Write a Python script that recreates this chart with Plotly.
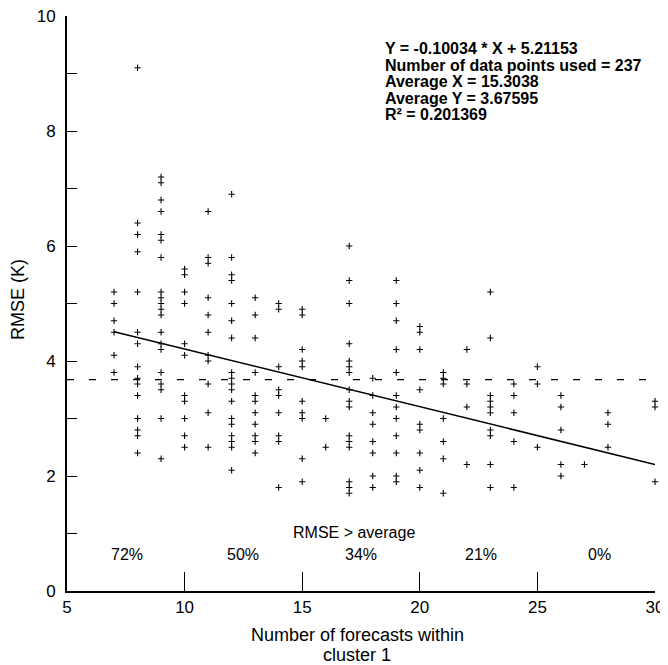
import plotly.graph_objects as go

# ---- data ----
x_cols = [7, 8, 9, 10, 11, 12, 13, 14, 15, 16, 17, 18, 19, 20, 21, 22, 23, 24, 25, 26, 27, 28, 30]
y_cols = [
    [5.2, 5.0, 4.7, 4.5, 4.1, 3.8],
    [9.1, 6.4, 6.2, 5.9, 5.2, 4.5, 4.3, 3.9, 3.7, 3.6, 3.4, 3.0, 2.8, 2.7, 2.4],
    [7.2, 7.1, 6.8, 6.6, 6.2, 6.1, 5.8, 5.2, 5.1, 5.0, 4.9, 4.8, 4.5, 4.3, 4.2, 3.8, 3.6, 3.5, 3.0, 2.3],
    [5.6, 5.5, 5.2, 5.0, 4.3, 4.1, 3.4, 3.3, 3.0, 2.7, 2.5],
    [6.6, 5.8, 5.7, 5.1, 4.8, 4.5, 4.1, 4.0, 3.6, 3.1, 2.5],
    [6.9, 5.8, 5.5, 5.4, 5.0, 4.7, 4.4, 3.8, 3.7, 3.6, 3.5, 3.3, 3.0, 2.9, 2.7, 2.6, 2.5, 2.1],
    [5.1, 4.8, 4.4, 3.8, 3.4, 3.3, 3.1, 2.9, 2.7, 2.6, 2.4],
    [5.0, 4.9, 3.9, 3.5, 3.4, 3.1, 2.7, 2.6, 1.8],
    [4.9, 4.8, 4.2, 4.0, 3.9, 3.3, 3.1, 3.0, 2.3, 1.9],
    [3.0, 2.5],
    [6.0, 5.4, 5.0, 4.3, 4.0, 3.9, 3.8, 3.5, 3.3, 3.2, 2.7, 2.6, 2.5, 1.9, 1.8, 1.7],
    [3.7, 3.4, 3.1, 2.9, 2.6, 2.4, 2.0, 1.8],
    [5.4, 5.0, 4.7, 4.2, 3.8, 3.4, 3.2, 3.0, 2.7, 2.4, 2.0, 1.9],
    [4.6, 4.5, 4.2, 3.5, 2.9, 2.8, 2.4, 2.1, 1.8],
    [3.8, 3.7, 3.6, 3.0, 2.6, 2.3, 1.7],
    [4.2, 3.6, 3.2, 2.2],
    [5.2, 4.4, 3.4, 3.3, 3.2, 3.1, 2.8, 2.7, 2.2, 1.8],
    [3.6, 3.4, 3.1, 2.6, 1.8],
    [3.9, 3.6, 2.5],
    [3.4, 3.2, 2.8, 2.2, 2.0],
    [2.2],
    [3.1, 2.9, 2.5],
    [3.3, 3.2, 1.9],
]
slope = -0.10034
intercept = 5.21153
avg_y = 3.67595
fit_x = [7, 30]
avg_x_span = [5, 30]
stats_lines = [
    "Y = -0.10034 * X + 5.21153",
    "Number of data points used = 237",
    "Average X = 15.3038",
    "Average Y = 3.67595",
    "R\u00b2 = 0.201369",
]
pct_labels = ["72%", "50%", "34%", "21%", "0%"]
pct_x = [7.55, 12.5, 17.5, 22.6, 27.65]
y_tickvals = list(range(0, 11))
y_ticktext = [str(v) if v % 2 == 0 else "" for v in y_tickvals]
x_tickvals = [5, 10, 15, 20, 25, 30]
x_title_lines = ["Number of forecasts within", "cluster 1"]
y_title = "RMSE (K)"

xs, ys = [], []
for xv, col in zip(x_cols, y_cols):
    for yv in col:
        xs.append(xv)
        ys.append(yv)

FONT = "Liberation Sans, Arial, sans-serif"

fig = go.Figure()
fig.add_trace(go.Scatter(
    x=xs, y=ys, mode="markers",
    marker=dict(symbol="cross-thin", size=4.5, color="black",
                line=dict(color="black", width=1.1)),
    hoverinfo="skip", showlegend=False, cliponaxis=False))
fig.add_trace(go.Scatter(
    x=fit_x, y=[slope * v + intercept for v in fit_x], mode="lines",
    line=dict(color="black", width=1.5), showlegend=False, hoverinfo="skip"))
fig.add_trace(go.Scatter(
    x=avg_x_span, y=[avg_y, avg_y], mode="lines",
    line=dict(color="black", width=1.3, dash="7px,15px"),
    showlegend=False, hoverinfo="skip"))

annotations = []
stat_y = [9.43, 9.14, 8.86, 8.57, 8.28]
for txt, yy in zip(stats_lines, stat_y):
    annotations.append(dict(
        x=18.42, y=yy, xref="x", yref="y", text="<b>" + txt + "</b>",
        showarrow=False, xanchor="left", yanchor="middle",
        font=dict(family=FONT, size=16, color="black")))
annotations.append(dict(
    x=17.2, y=1.02, xref="x", yref="y", text="RMSE > average",
    showarrow=False, xanchor="center", yanchor="middle",
    font=dict(family=FONT, size=16, color="black")))
for txt, xx in zip(pct_labels, pct_x):
    annotations.append(dict(
        x=xx, y=0.64, xref="x", yref="y", text=txt,
        showarrow=False, xanchor="center", yanchor="middle",
        font=dict(family=FONT, size=16, color="black")))
for txt, yy in zip(x_title_lines, [-0.0766, -0.1114]):
    annotations.append(dict(
        x=17.33, y=yy, xref="x", yref="paper", text=txt,
        showarrow=False, xanchor="center", yanchor="middle",
        font=dict(family=FONT, size=18, color="black")))
annotations.append(dict(
    x=-0.0825, y=0.507, xref="paper", yref="paper", text=y_title,
    textangle=-90, showarrow=False, xanchor="center", yanchor="middle",
    font=dict(family=FONT, size=18, color="black")))

# the page body has an 8px margin, so the canvas is shrunk by 8px
fig.update_layout(
    width=660, height=657,
    margin=dict(l=59, r=13, t=8, b=74),
    paper_bgcolor="white", plot_bgcolor="white",
    font=dict(family=FONT, color="black"),
    annotations=annotations,
    xaxis=dict(
        range=[5, 30], tickvals=x_tickvals, ticks="inside", ticklen=19,
        tickwidth=1.3, tickcolor="black", showline=True, linecolor="black",
        linewidth=1.5, showgrid=False, zeroline=False, automargin=False,
        ticklabeloverflow="allow",
        tickfont=dict(family=FONT, size=17, color="black")),
    yaxis=dict(
        range=[0, 10], tickvals=y_tickvals, ticktext=y_ticktext,
        ticks="inside", ticklen=10, tickwidth=1.3, tickcolor="black",
        showline=True, linecolor="black", linewidth=2, showgrid=False,
        zeroline=False, ticklabelstandoff=6, automargin=False,
        ticklabeloverflow="allow",
        tickfont=dict(family=FONT, size=17, color="black")),
)
fig.write_html("out.html")
